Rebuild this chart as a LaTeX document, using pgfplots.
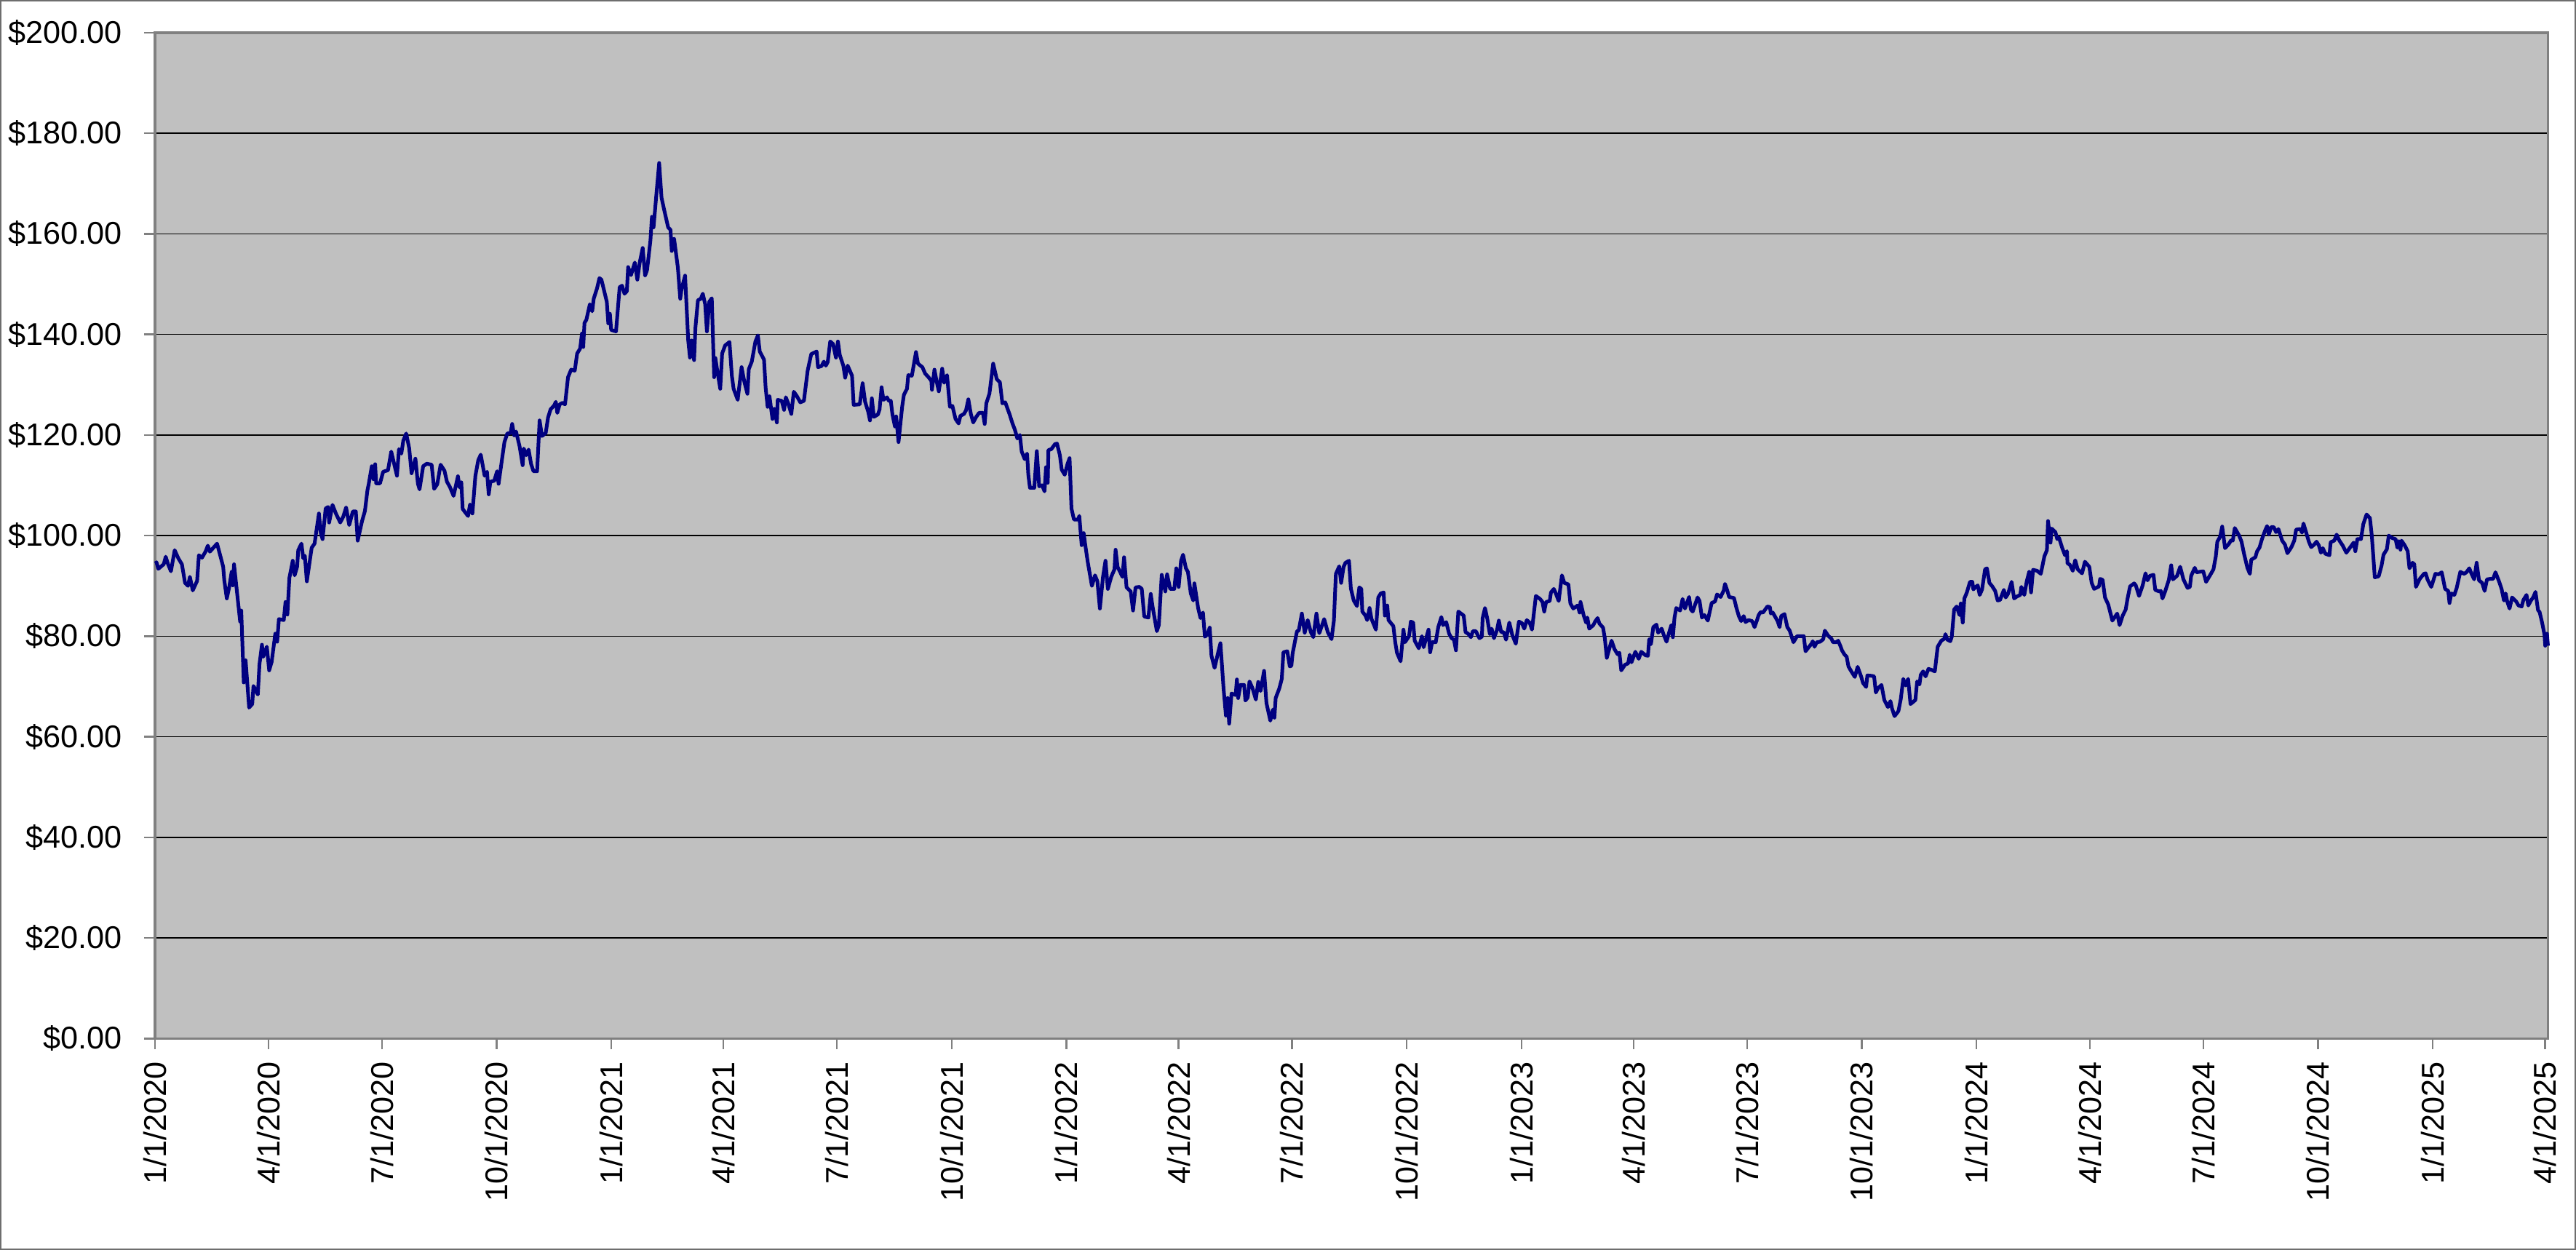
\documentclass[border=0pt]{standalone}
\usepackage{fontspec}
\setmainfont{Liberation Sans}
\usepackage{pgfplots}
\pgfplotsset{compat=1.18}
\definecolor{plotbg}{HTML}{C0C0C0}
\definecolor{navyline}{HTML}{000080}
\definecolor{bordergray}{HTML}{808080}
\definecolor{framegray}{HTML}{6E6E6E}
\begin{document}
\begin{tikzpicture}
\begin{axis}[
  scale only axis, width=822.2pt, height=345.6pt,
  xmin=0, xmax=1919.5, ymin=0, ymax=200,
  axis background/.style={fill=plotbg},
  axis line style={bordergray, line width=0.8pt},
  ytick={0,20,40,60,80,100,120,140,160,180,200},
  yticklabels={\$0.00,\$20.00,\$40.00,\$60.00,\$80.00,\$100.00,\$120.00,\$140.00,\$160.00,\$180.00,\$200.00},
  xtick={0,91,182,274,366,456,547,639,731,821,912,1004,1096,1186,1277,1369,1461,1552,1643,1735,1827,1917},
  xticklabels={1/1/2020,4/1/2020,7/1/2020,10/1/2020,1/1/2021,4/1/2021,7/1/2021,10/1/2021,1/1/2022,4/1/2022,7/1/2022,10/1/2022,1/1/2023,4/1/2023,7/1/2023,10/1/2023,1/1/2024,4/1/2024,7/1/2024,10/1/2024,1/1/2025,4/1/2025},
  tick pos=left, tick align=outside,
  major tick length=3.7pt,
  tick style={bordergray, line width=0.6pt},
  ymajorgrids, grid style={black, line width=0.35pt},
  ticklabel style={font=\fontsize{10.8}{13}\selectfont},
  xticklabel style={rotate=90, anchor=east, inner sep=0pt},
  yticklabel style={anchor=east, inner sep=0pt},
  xticklabel shift=4.2pt, yticklabel shift=7.5pt,
  clip=false,
]
\addplot[navyline, line width=1.25pt, line join=round, mark=none] coordinates {
(0.5,94.5) (1.2,94.7) (2.7,93.4) (7.0,94.3) (8.6,95.8) (10.5,94.3) (12.8,92.9) (15.8,97.1) (18.7,95.5) (21.6,94.3) (24.1,90.6) (26.5,90.0) (28.0,91.8) (30.3,89.1) (33.8,91.0) (35.2,96.1) (37.7,95.6) (40.5,96.8) (42.4,98.0) (44.0,96.8) (49.8,98.4) (52.7,95.7) (54.7,93.8) (55.6,91.1) (57.6,87.5) (59.5,89.7) (61.5,92.8) (62.4,90.1) (63.4,94.3) (68.3,82.9) (69.2,85.1) (71.2,70.8) (72.7,75.2) (75.5,65.8) (78.0,66.5) (79.0,70.1) (82.5,68.4) (83.8,74.4) (85.8,78.3) (86.8,75.9) (89.7,77.9) (91.6,73.2) (93.6,74.9) (96.5,80.5) (98.0,78.9) (99.4,83.4) (103.3,83.2) (104.7,86.8) (106.2,84.3) (107.8,91.6) (110.5,95.0) (112.0,92.1) (114.0,93.8) (114.9,97.1) (117.5,98.4) (118.9,95.5) (120.2,96.0) (121.8,90.9) (125.7,97.6) (128.0,98.4) (131.5,104.4) (133.0,100.5) (134.4,99.3) (136.9,105.4) (138.9,105.7) (139.7,102.6) (142.4,106.1) (145.1,104.4) (148.6,102.6) (150.9,103.7) (153.3,105.6) (155.8,102.1) (158.7,104.8) (161.1,104.8) (162.6,99.0) (166.1,102.9) (168.4,104.9) (170.4,109.0) (171.4,110.2) (173.9,113.8) (175.3,111.2) (176.6,114.2) (177.4,110.4) (180.5,110.4) (183.0,112.7) (186.9,113.0) (189.5,116.7) (194.1,111.9) (195.7,117.2) (197.6,116.3) (199.2,118.9) (201.5,120.3) (203.9,117.4) (205.8,112.4) (208.9,115.3) (210.9,110.3) (212.2,109.2) (215.1,113.8) (218.0,114.3) (221.9,114.1) (223.9,109.3) (226.4,110.2) (229.1,114.1) (232.2,112.9) (234.2,110.7) (236.5,109.7)
(239.5,107.9) (243.0,111.8) (244.3,109.6) (245.7,110.6) (246.8,105.3) (251.1,103.9) (252.7,106.2) (254.6,104.4) (257.0,111.9) (259.3,115.0) (261.3,116.1) (264.4,111.9) (266.3,112.7) (267.7,108.2) (269.0,110.7) (272.1,110.9) (274.4,112.8) (275.6,110.3) (278.7,115.8) (280.3,118.6) (282.6,120.3) (285.2,120.4) (286.5,122.2) (288.1,119.9) (289.6,120.7) (292.4,117.8) (294.9,114.0) (295.8,117.3) (297.8,116.0) (299.7,117.1) (301.7,114.2) (303.6,112.8) (306.5,112.8) (308.5,122.9) (310.4,119.8) (313.4,120.4) (315.3,123.5) (317.3,125.1) (320.2,125.9) (321.5,126.6) (322.7,124.4) (324.6,126.1) (327.0,126.4) (328.9,126.1) (331.3,131.5) (333.8,133.0) (336.7,132.8) (338.6,136.2) (341.0,137.2) (342.5,140.2) (343.5,137.5) (344.5,142.3) (346.0,142.9) (348.8,146.0) (350.7,144.6) (351.9,147.1) (354.6,149.2) (356.5,151.2) (358.1,150.9) (362.4,146.5) (363.6,142.2) (364.9,144.1) (365.9,140.9) (369.8,140.6) (372.7,149.4) (374.6,149.7) (376.6,148.1) (378.5,148.6) (379.5,153.4) (381.8,151.8) (384.9,154.3) (386.9,150.9) (388.8,154.3) (391.2,157.2) (393.1,151.7) (394.7,152.8) (397.4,158.7) (398.6,163.4) (399.9,161.3) (402.5,168.8) (404.4,174.1) (406.3,167.2) (408.3,164.9) (411.6,161.3) (413.5,160.8) (414.5,156.6) (416.4,159.0) (419.4,153.3) (421.3,147.1) (422.3,148.9) (425.2,151.7) (427.7,138.8) (429.1,135.4) (430.4,138.8) (432.4,134.9) (433.5,141.4) (435.5,146.8) (437.8,147.1) (439.4,148.1) (441.3,146.0) (442.7,140.6) (444.6,146.5) (446.6,147.2) (448.5,131.5) (449.5,135.3) (451.0,132.8) (453.4,129.2) (454.9,136.2) (457.3,137.8) (460.8,138.5) (462.7,131.8) (464.1,129.2) (467.4,127.0) (470.5,133.5) (472.8,130.5) (475.2,128.2) (476.3,133.1) (478.7,134.6)
(481.6,138.6) (483.6,139.8) (485.1,136.6) (488.5,135.0) (489.8,129.4) (491.4,125.6) (492.9,127.7) (495.3,123.2) (496.8,125.2) (498.8,122.5) (499.5,127.0) (502.7,126.8) (504.6,125.0) (506.0,127.5) (507.9,126.3) (510.4,124.2) (512.4,128.6) (514.7,127.8) (517.6,126.5) (520.5,126.8) (523.5,132.8) (526.4,136.1) (530.7,136.6) (531.8,133.5) (534.6,133.7) (536.5,134.6) (538.1,133.8) (539.6,134.5) (541.6,138.6) (543.9,138.1) (546.2,135.4) (547.8,138.6) (549.3,135.9) (552.1,133.8) (553.6,131.4) (555.6,133.8) (559.1,131.8) (560.4,126.0) (565.3,126.1) (567.6,130.3) (569.6,126.6) (572.1,124.6) (573.5,122.9) (575.0,127.3) (576.6,123.6) (579.9,124.1) (581.2,125.1) (582.8,129.5) (584.3,127.0) (587.1,127.5) (588.6,126.8) (590.2,126.8) (591.5,124.1) (593.5,121.7) (594.5,123.7) (596.4,118.6) (599.3,125.6) (600.7,128.0) (603.2,129.2) (604.2,131.9) (607.1,131.8) (610.4,136.5) (612.0,134.2) (615.5,133.5) (617.8,132.2) (620.1,131.6) (622.7,130.8) (623.2,129.0) (625.2,133.0) (627.1,130.5) (628.7,128.7) (631.4,133.2) (633.0,130.4) (635.3,131.9) (637.6,125.6) (639.6,125.8) (642.1,123.2) (644.6,122.3) (646.0,123.8) (648.9,124.2) (650.5,124.9) (652.4,127.1) (654.4,124.2) (656.3,122.5) (658.7,123.6) (661.0,124.4) (664.1,124.4) (665.5,122.2) (666.8,126.3) (669.3,128.2) (672.3,134.2) (675.2,131.1) (677.7,130.5) (679.7,126.3) (682.0,126.5) (685.5,124.1) (687.8,122.3) (689.8,121.0) (691.7,119.3) (693.7,120.0) (695.2,116.7) (697.6,115.2) (699.5,116.3) (700.5,112.1) (701.8,109.5) (705.3,109.5) (707.3,116.8) (709.2,109.8) (711.6,110.0) (713.5,108.8) (714.7,113.6) (716.1,110.5) (716.6,117.0) (719.0,117.2)
(721.9,118.2) (723.5,118.3) (725.8,116.0) (727.3,113.1) (729.7,112.1) (732.0,114.3) (733.6,115.4) (735.1,105.4) (737.1,103.2) (740.4,103.2) (741.4,103.9) (743.3,98.1) (744.9,100.5) (746.2,98.1) (748.2,94.7) (751.5,90.0) (754.0,92.1) (755.9,90.9) (757.9,85.5) (760.4,91.8) (762.4,95.0) (764.3,89.4) (767.0,91.8) (769.6,93.3) (770.5,97.2) (772.1,93.8) (776.0,91.8) (777.3,95.7) (779.3,89.7) (782.6,88.9) (784.5,85.1) (786.5,89.7) (789.6,89.8) (791.5,89.4) (793.5,83.9) (796.8,83.7) (798.7,88.4) (800.1,86.0) (803.6,81.0) (805.2,82.2) (807.5,92.2) (810.4,88.9) (811.8,92.3) (814.3,89.4) (817.6,89.4) (819.2,93.5) (821.1,89.8) (823.0,95.0) (824.6,96.2) (826.9,93.5) (828.5,92.8) (830.8,88.5) (832.8,87.1) (833.7,90.5) (836.7,85.6) (838.6,83.6) (840.6,84.7) (842.1,79.9) (844.1,80.3) (846.0,81.7) (847.4,76.1) (849.9,73.7) (852.6,76.6) (854.6,78.6) (857.1,69.6) (859.0,64.2) (860.4,67.7) (861.6,62.6) (863.5,68.6) (866.8,68.3) (867.8,71.4) (868.8,67.7) (870.7,70.3) (873.6,70.3) (874.6,67.2) (876.5,67.8) (877.9,71.0) (880.4,69.6) (883.0,67.4) (884.9,70.9) (886.8,69.1) (889.6,73.1) (891.5,66.7) (894.6,63.2) (896.6,65.4) (897.9,63.8) (898.9,67.7) (901.8,69.6) (903.8,71.5) (905.1,76.8) (908.2,77.0) (910.2,74.0) (911.5,74.1) (912.5,76.6) (916.0,81.0) (917.4,81.1) (919.9,84.5) (922.2,80.7) (924.6,83.2) (927.1,80.8) (929.1,79.8) (931.6,84.5) (933.9,80.6) (937.8,83.4) (940.7,80.8) (943.7,79.4) (945.6,83.1) (947.2,92.4) (949.9,93.9) (951.4,90.6) (953.4,93.8) (954.9,94.6) (957.7,95.0) (959.2,89.5) (961.5,87.1) (964.1,86.0)
(966.0,89.7) (967.6,89.4) (968.4,84.9) (970.9,84.1) (972.3,83.2) (974.2,85.6) (975.8,83.4) (979.3,81.3) (981.2,87.7) (983.2,88.5) (985.5,88.7) (986.5,84.1) (988.4,86.1) (989.4,83.2) (993.3,82.0) (994.8,78.8) (996.2,76.7) (999.1,75.0) (1001.4,81.3) (1002.6,78.8) (1005.9,80.0) (1007.3,82.9) (1009.2,82.7) (1010.4,79.1) (1013.7,77.6) (1016.2,80.0) (1017.6,77.8) (1021.5,81.3) (1022.8,76.8) (1024.4,78.8) (1027.3,78.8) (1029.3,81.8) (1031.8,83.8) (1033.2,82.2) (1035.7,82.8) (1038.0,80.5) (1040.0,79.6) (1041.9,79.3) (1043.5,77.2) (1045.4,84.9) (1048.1,84.4) (1049.7,84.1) (1051.2,80.8) (1053.2,80.5) (1055.5,79.8) (1057.1,81.0) (1059.4,81.0) (1062.3,79.6) (1064.3,79.9) (1064.9,83.6) (1066.8,85.6) (1068.7,83.4) (1070.7,80.4) (1072.1,81.5) (1074.0,79.6) (1076.5,81.3) (1077.9,83.1) (1079.8,80.8) (1081.8,80.8) (1083.7,79.3) (1086.3,82.7) (1088.6,80.3) (1091.5,78.5) (1094.0,82.9) (1096.4,82.6) (1098.3,81.5) (1100.3,83.2) (1102.6,82.7) (1104.5,81.3) (1107.6,88.0) (1111.0,87.4) (1112.9,86.8) (1114.3,84.9) (1115.8,86.8) (1118.7,87.0) (1119.7,88.7) (1122.0,89.4) (1123.6,88.5) (1125.9,87.0) (1128.5,92.1) (1130.4,90.6) (1133.7,90.3) (1135.3,86.5) (1137.6,85.5) (1141.1,86.1) (1142.7,84.7) (1143.4,86.8) (1146.0,84.1) (1147.9,82.7) (1148.9,83.7) (1150.4,81.5) (1153.7,82.2) (1155.1,82.9) (1157.1,83.6) (1158.6,82.5) (1161.5,81.7) (1162.9,79.6) (1164.5,75.7) (1168.3,79.1) (1170.7,77.4) (1173.2,76.4) (1174.6,76.7) (1176.1,73.2) (1179.0,74.3) (1181.6,74.6) (1182.9,76.3) (1184.3,74.8) (1187.4,76.9) (1190.1,75.5) (1192.1,76.9) (1195.6,76.2) (1197.5,76.1) (1198.5,79.4) (1199.9,78.4) (1201.8,81.8) (1204.3,82.3) (1205.7,80.7)
(1208.5,81.5) (1210.1,80.3) (1212.4,78.9) (1214.9,81.1) (1216.3,82.2) (1217.5,79.8) (1218.8,83.7) (1220.2,85.6) (1223.3,85.1) (1225.3,87.4) (1227.2,85.5) (1230.5,87.8) (1231.9,85.3) (1233.4,84.9) (1237.3,87.7) (1238.9,87.0) (1240.8,83.7) (1242.8,84.2) (1245.5,83.1) (1248.6,86.6) (1251.3,86.9) (1252.9,88.3) (1255.8,87.8) (1258.3,89.1) (1259.3,90.4) (1261.1,89.1) (1262.6,87.8) (1266.5,87.6) (1268.4,85.7) (1270.4,84.0) (1272.3,83.0) (1274.3,84.0) (1275.8,82.8) (1278.2,83.2) (1281.1,83.0) (1283.0,81.8) (1285.0,83.2) (1286.3,84.2) (1287.9,84.8) (1289.8,84.7) (1293.3,85.9) (1295.3,85.8) (1296.1,84.5) (1297.6,84.7) (1299.9,83.7) (1301.5,83.0) (1303.1,81.8) (1304.4,84.0) (1307.0,84.4) (1309.3,81.8) (1311.2,81.1) (1314.2,78.8) (1317.1,80.0) (1319.4,80.0) (1322.5,80.0) (1323.9,77.0) (1326.4,77.8) (1328.7,78.5) (1329.7,79.0) (1331.1,77.9) (1333.0,78.8) (1335.6,78.9) (1338.1,79.4) (1339.4,81.1) (1342.0,80.1) (1344.7,79.5) (1345.9,78.8) (1348.6,78.8) (1350.1,79.1) (1352.1,77.9) (1353.1,77.2) (1355.0,76.4) (1356.9,75.9) (1358.3,74.0) (1359.9,73.3) (1363.4,71.9) (1365.7,73.9) (1368.6,71.9) (1370.0,70.7) (1372.5,69.9) (1373.5,72.2) (1377.4,72.1) (1378.9,72.0) (1380.3,68.8) (1382.2,69.7) (1384.8,70.3) (1387.1,67.3) (1390.0,65.9) (1392.0,67.1) (1393.3,65.6) (1395.3,64.1) (1398.4,65.1) (1400.3,67.5) (1402.3,71.5) (1404.2,70.2) (1406.2,71.5) (1408.1,66.5) (1412.0,67.3) (1413.4,71.0) (1415.3,70.4) (1416.3,72.3) (1418.2,73.0) (1420.2,72.0) (1422.5,73.5) (1425.0,73.3) (1427.6,73.0) (1429.9,77.9) (1432.8,79.1) (1435.3,79.5) (1436.1,80.4) (1437.7,79.3) (1440.0,79.0) (1441.2,79.9) (1443.1,85.3) (1445.1,85.9) (1447.4,84.2)
(1448.4,86.5) (1450.0,82.7) (1451.3,87.5) (1453.3,88.7) (1455.8,90.8) (1457.7,90.8) (1458.5,89.3) (1460.5,89.8) (1462.0,90.1) (1463.6,88.2) (1465.5,89.3) (1467.9,93.3) (1469.4,93.5) (1471.4,90.6) (1473.7,89.9) (1476.0,89.0) (1478.0,87.1) (1479.9,87.2) (1483.0,89.2) (1484.4,87.7) (1486.3,88.4) (1489.2,90.8) (1491.2,87.5) (1493.5,87.9) (1496.1,88.2) (1497.0,89.8) (1499.4,88.2) (1501.3,90.9) (1503.3,92.8) (1504.8,88.7) (1506.4,93.2) (1509.7,93.0) (1512.6,92.4) (1515.5,95.9) (1517.5,97.1) (1518.4,102.9) (1520.4,98.6) (1521.3,101.4) (1524.3,100.7) (1525.8,99.3) (1527.2,99.6) (1529.7,97.6) (1532.0,96.1) (1533.6,96.9) (1534.0,94.5) (1535.9,94.2) (1538.3,93.0) (1540.2,95.1) (1542.2,93.3) (1545.7,92.5) (1548.0,94.8) (1551.5,93.8) (1553.4,90.6) (1555.4,89.4) (1559.3,89.9) (1560.2,91.4) (1562.2,91.2) (1564.1,87.7) (1566.7,86.3) (1570.0,83.1) (1573.9,84.5) (1575.8,82.2) (1578.3,84.1) (1580.7,85.3) (1582.2,87.5) (1584.2,89.9) (1587.5,90.5) (1588.8,90.1) (1591.4,88.0) (1594.3,90.1) (1596.6,92.5) (1598.2,91.1) (1600.1,92.0) (1603.0,92.2) (1604.4,89.2) (1607.5,88.9) (1608.9,89.0) (1610.2,87.5) (1612.2,88.8) (1615.3,91.2) (1617.2,94.1) (1618.6,91.3) (1621.9,92.0) (1624.4,93.8) (1627.0,91.3) (1630.3,89.6) (1632.2,89.8) (1633.2,92.0) (1636.1,93.6) (1637.5,92.7) (1640.0,92.8) (1642.9,92.9) (1645.2,90.8) (1648.8,92.3) (1651.1,93.3) (1653.0,95.9) (1654.2,98.8) (1656.5,99.8) (1658.1,101.8) (1660.4,97.5) (1663.3,98.3) (1665.3,99.1) (1666.6,99.0) (1668.2,101.5) (1671.7,100.0) (1673.6,98.8) (1675.6,96.4) (1678.3,93.6) (1680.3,92.4) (1681.4,95.2) (1684.7,95.7) (1686.1,96.9) (1688.0,97.6) (1690.0,99.3)
(1692.5,101.0) (1694.1,101.9) (1695.5,100.2) (1697.4,101.7) (1699.4,101.7) (1701.3,100.7) (1703.2,101.3) (1706.2,99.0) (1708.5,98.2) (1710.4,96.5) (1713.6,97.7) (1715.9,99.0) (1717.4,101.2) (1720.8,101.3) (1722.1,100.6) (1723.3,102.4) (1725.6,100.5) (1727.6,98.8) (1729.5,97.7) (1731.8,98.2) (1733.8,98.8) (1735.7,98.0) (1737.3,96.6) (1738.8,97.5) (1740.8,96.4) (1744.1,96.1) (1745.1,98.7) (1748.0,99.0) (1749.9,100.2) (1751.9,99.1) (1754.8,98.0) (1757.7,96.6) (1760.6,97.6) (1763.5,98.6) (1764.9,96.9) (1766.5,99.3) (1769.4,99.3) (1771.3,102.3) (1773.9,104.2) (1776.6,103.5) (1778.1,100.0) (1780.5,91.7) (1783.6,91.9) (1785.9,94.0) (1787.5,96.2) (1790.2,97.3) (1791.7,100.0) (1794.7,99.5) (1797.2,99.3) (1798.6,97.6) (1799.9,98.9) (1801.1,97.2) (1801.9,99.0) (1804.4,98.1) (1806.9,96.9) (1808.3,93.5) (1810.8,94.6) (1812.2,94.3) (1813.5,89.8) (1816.6,91.4) (1819.9,92.4) (1821.3,92.5) (1822.9,91.2) (1825.8,89.8) (1829.1,92.4) (1831.6,92.3) (1834.2,92.7) (1836.9,89.4) (1839.4,89.0) (1840.4,86.6) (1841.9,88.5) (1844.3,88.2) (1846.2,89.6) (1849.1,92.8) (1852.1,92.4) (1854.0,92.7) (1856.3,93.5) (1858.3,92.3) (1860.2,91.3) (1862.2,94.6) (1864.1,91.1) (1866.6,90.6) (1868.6,89.0) (1870.5,91.3) (1873.4,91.4) (1875.4,91.4) (1877.3,92.7) (1880.3,90.8) (1882.2,89.4) (1884.1,87.1) (1885.5,88.5) (1886.7,86.9) (1888.6,85.5) (1890.6,87.7) (1893.9,86.9) (1895.8,86.1) (1898.3,85.9) (1899.7,87.2) (1902.2,88.2) (1903.6,86.1) (1905.5,87.0) (1907.5,87.7) (1909.4,88.8) (1911.4,85.2) (1912.7,84.8) (1914.7,82.7) (1916.6,80.3) (1917.2,78.1) (1918.6,80.5) (1919.4,78.1)
};
\draw[framegray, line width=0.5pt] ([xshift=-53pt, yshift=-72.35pt]rel axis cs:0,0) rectangle ([xshift=9.35pt, yshift=11pt]rel axis cs:1,1);
\end{axis}
\end{tikzpicture}
\end{document}
